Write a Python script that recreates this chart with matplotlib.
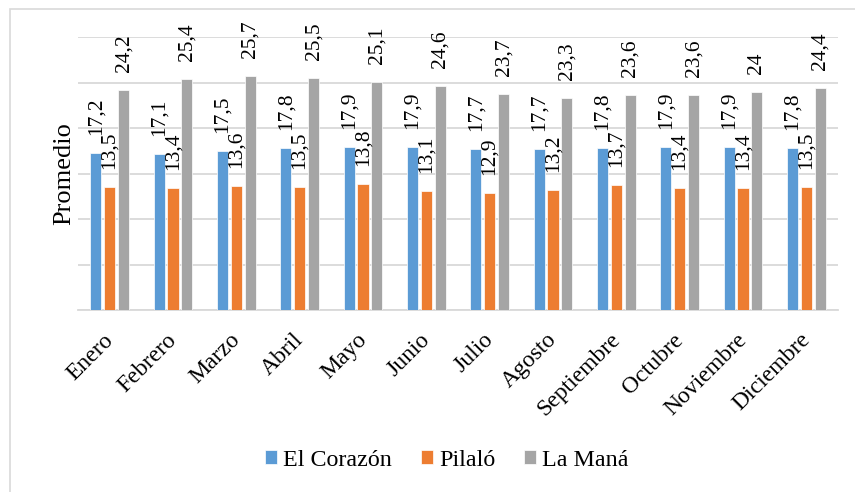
import matplotlib
matplotlib.use("Agg")
import matplotlib.pyplot as plt
import matplotlib.transforms as mtransforms
import numpy as np
from matplotlib.patches import Rectangle

meses = ["Enero", "Febrero", "Marzo", "Abril", "Mayo", "Junio", "Julio",
         "Agosto", "Septiembre", "Octubre", "Noviembre", "Diciembre"]
el_corazon = [17.2, 17.1, 17.5, 17.8, 17.9, 17.9, 17.7, 17.7, 17.8, 17.9, 17.9, 17.8]
pilalo = [13.5, 13.4, 13.6, 13.5, 13.8, 13.1, 12.9, 13.2, 13.7, 13.4, 13.4, 13.5]
la_mana = [24.2, 25.4, 25.7, 25.5, 25.1, 24.6, 23.7, 23.3, 23.6, 23.6, 24.0, 24.4]

series = [("El Corazón", el_corazon, "#5B9BD5"),
          ("Pilaló", pilalo, "#ED7D31"),
          ("La Maná", la_mana, "#A5A5A5")]

plt.rcParams["font.family"] = ["Liberation Serif", "DejaVu Serif"]

W, H = 855, 492
fig = plt.figure(figsize=(W / 100, H / 100), dpi=100)

# outer chart frame
fig.patches.append(Rectangle((10 / W, -0.1), 1.2, 1 - 9 / H + 0.1,
                             transform=fig.transFigure, fill=False,
                             edgecolor="#D9D9D9", linewidth=1.2))

ax = fig.add_axes([78 / W, 1 - 310 / H, (838 - 78) / W, (310 - 37) / H])

x = np.arange(len(meses))
bw = 0.175
step = 0.22


def fmt(v):
    s = f"{v:.1f}".replace(".", ",")
    if s.endswith(",0"):
        s = s[:-2]
    return s


for i, (name, vals, col) in enumerate(series):
    pos = x + (i - 1) * step
    ax.bar(pos, vals, width=bw, color=col, edgecolor="white",
           linewidth=0.5, label=name, zorder=3)
    for xp, v in zip(pos, vals):
        ax.annotate(fmt(v), (xp, v), xytext=(0, 13), textcoords="offset points",
                    rotation=90, ha="center", va="bottom", fontsize=15.5,
                    zorder=4)

ax.set_xlim(-0.5, len(meses) - 0.5)
ax.set_ylim(0, 30)
ax.set_yticks(np.arange(0, 31, 5))
ax.yaxis.grid(True, color="#D9D9D9", linewidth=1.3, zorder=0)
ax.tick_params(axis="y", length=0, labelleft=False)
ax.tick_params(axis="x", length=0, pad=14)
ax.set_xticks(x)
ax.set_xticklabels(meses, rotation=45, ha="right", rotation_mode="anchor",
                   fontsize=17)
shift = mtransforms.ScaledTranslation(-5 / 72, 0, fig.dpi_scale_trans)
for lbl in ax.get_xticklabels():
    lbl.set_transform(lbl.get_transform() + shift)
for s in ["top", "right", "left"]:
    ax.spines[s].set_visible(False)
ax.spines["bottom"].set_color("#D9D9D9")
ax.spines["bottom"].set_linewidth(1.3)
ax.set_ylabel("Promedio", fontsize=19, labelpad=2)

fig.legend(loc="center", bbox_to_anchor=(447 / W, 1 - 460 / H), ncol=3,
           frameon=False, fontsize=17.3, handlelength=0.5, handleheight=0.5,
           handletextpad=0.25, columnspacing=1.2)

fig.savefig("out.png", dpi=100)
